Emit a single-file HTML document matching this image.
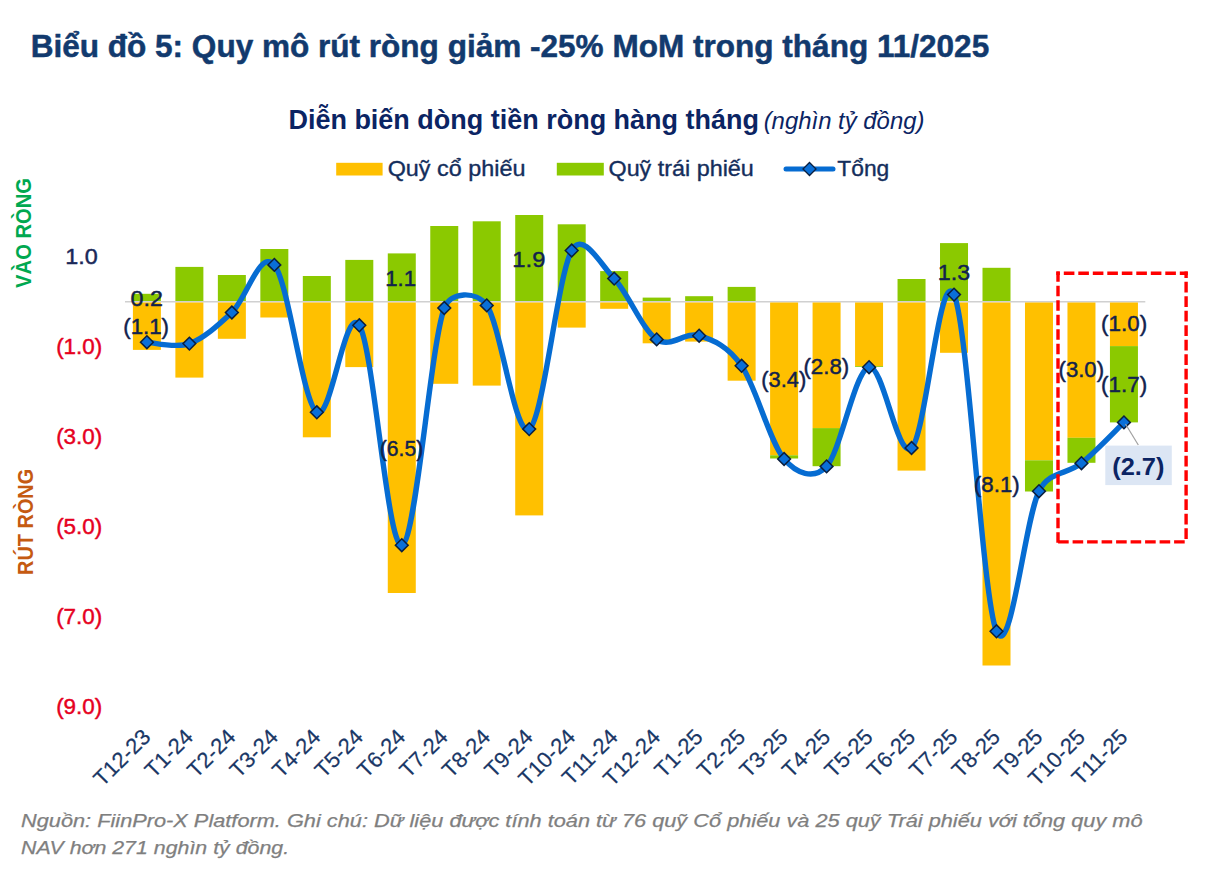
<!DOCTYPE html><html><head><meta charset="utf-8"><style>html,body{margin:0;padding:0;background:#fff;}svg{display:block;}</style></head><body>
<svg width="1214" height="882" viewBox="0 0 1214 882">
<rect width="1214" height="882" fill="#fff"/>
<text x="30.65" y="56.60" font-family='"Liberation Sans", sans-serif' font-size="31.5" font-weight="bold" font-style="normal" fill="#123A6E" textLength="958.55" lengthAdjust="spacingAndGlyphs" stroke="#123A6E" stroke-width="0.5" stroke-linejoin="round">Biểu đồ 5: Quy mô rút ròng giảm -25% MoM trong tháng 11/2025</text>
<text x="288.45" y="128.80" font-family='"Liberation Sans", sans-serif' font-size="27" font-weight="bold" font-style="normal" fill="#0B2463" textLength="470.53" lengthAdjust="spacingAndGlyphs">Diễn biến dòng tiền ròng hàng tháng</text>
<text x="763.66" y="128.80" font-family='"Liberation Sans", sans-serif' font-size="23" font-weight="normal" font-style="italic" fill="#0B2463" textLength="160.77" lengthAdjust="spacingAndGlyphs">(nghìn tỷ đồng)</text>
<rect x="336.2" y="162.8" width="46.4" height="12.7" fill="#FFC000"/>
<text x="387.69" y="176.00" font-family='"Liberation Sans", sans-serif' font-size="21.5" font-weight="normal" font-style="normal" fill="#142E5C" textLength="137.70" lengthAdjust="spacingAndGlyphs" stroke="#142E5C" stroke-width="0.35" stroke-linejoin="round">Quỹ cổ phiếu</text>
<rect x="556.8" y="162.8" width="47" height="12.7" fill="#8BC900"/>
<text x="608.49" y="176.00" font-family='"Liberation Sans", sans-serif' font-size="21.5" font-weight="normal" font-style="normal" fill="#142E5C" textLength="145.30" lengthAdjust="spacingAndGlyphs" stroke="#142E5C" stroke-width="0.35" stroke-linejoin="round">Quỹ trái phiếu</text>
<line x1="786" y1="169" x2="833" y2="169" stroke="#066CD2" stroke-width="5" stroke-linecap="round"/>
<path d="M809.5,162.5 L816,169 L809.5,175.5 L803,169 Z" fill="#0A6FD8" stroke="#0B1F3F" stroke-width="1.3"/>
<text x="837.34" y="176.00" font-family='"Liberation Sans", sans-serif' font-size="21.5" font-weight="normal" font-style="normal" fill="#142E5C" textLength="51.98" lengthAdjust="spacingAndGlyphs" stroke="#142E5C" stroke-width="0.35" stroke-linejoin="round">Tổng</text>
<g transform="translate(30.5,287.7) rotate(-90)"><text x="-0.23" y="0.00" font-family='"Liberation Sans", sans-serif' font-size="21.5" font-weight="bold" font-style="normal" fill="#00A850" textLength="109.97" lengthAdjust="spacingAndGlyphs">VÀO RÒNG</text></g>
<g transform="translate(32.7,573.5) rotate(-90)"><text x="-1.39" y="0.00" font-family='"Liberation Sans", sans-serif' font-size="21.5" font-weight="bold" font-style="normal" fill="#C55A11" textLength="106.06" lengthAdjust="spacingAndGlyphs">RÚT RÒNG</text></g>
<text x="65.17" y="263.75" font-family='"Liberation Sans", sans-serif' font-size="22" font-weight="normal" font-style="normal" fill="#1A2858" textLength="32.49" lengthAdjust="spacingAndGlyphs" stroke="#1A2858" stroke-width="0.45" stroke-linejoin="round">1.0</text>
<text x="56.15" y="353.75" font-family='"Liberation Sans", sans-serif' font-size="22" font-weight="normal" font-style="normal" fill="#E6001E" textLength="46.08" lengthAdjust="spacingAndGlyphs" stroke="#E6001E" stroke-width="0.45" stroke-linejoin="round">(1.0)</text>
<text x="56.15" y="443.75" font-family='"Liberation Sans", sans-serif' font-size="22" font-weight="normal" font-style="normal" fill="#E6001E" textLength="46.08" lengthAdjust="spacingAndGlyphs" stroke="#E6001E" stroke-width="0.45" stroke-linejoin="round">(3.0)</text>
<text x="56.15" y="533.75" font-family='"Liberation Sans", sans-serif' font-size="22" font-weight="normal" font-style="normal" fill="#E6001E" textLength="46.08" lengthAdjust="spacingAndGlyphs" stroke="#E6001E" stroke-width="0.45" stroke-linejoin="round">(5.0)</text>
<text x="56.15" y="623.75" font-family='"Liberation Sans", sans-serif' font-size="22" font-weight="normal" font-style="normal" fill="#E6001E" textLength="46.08" lengthAdjust="spacingAndGlyphs" stroke="#E6001E" stroke-width="0.45" stroke-linejoin="round">(7.0)</text>
<text x="56.15" y="713.75" font-family='"Liberation Sans", sans-serif' font-size="22" font-weight="normal" font-style="normal" fill="#E6001E" textLength="46.08" lengthAdjust="spacingAndGlyphs" stroke="#E6001E" stroke-width="0.45" stroke-linejoin="round">(9.0)</text>
<rect x="125" y="301" width="1020.3" height="1.5" fill="#D0D0D0"/>
<rect x="132.90" y="293.80" width="28.0" height="7.20" fill="#8BC900"/>
<rect x="132.90" y="302.50" width="28.0" height="47.40" fill="#FFC000"/>
<rect x="175.38" y="266.90" width="28.0" height="34.10" fill="#8BC900"/>
<rect x="175.38" y="302.50" width="28.0" height="75.10" fill="#FFC000"/>
<rect x="217.86" y="275.00" width="28.0" height="26.00" fill="#8BC900"/>
<rect x="217.86" y="302.50" width="28.0" height="36.30" fill="#FFC000"/>
<rect x="260.34" y="249.00" width="28.0" height="52.00" fill="#8BC900"/>
<rect x="260.34" y="302.50" width="28.0" height="15.00" fill="#FFC000"/>
<rect x="302.82" y="276.00" width="28.0" height="25.00" fill="#8BC900"/>
<rect x="302.82" y="302.50" width="28.0" height="134.80" fill="#FFC000"/>
<rect x="345.30" y="259.90" width="28.0" height="41.10" fill="#8BC900"/>
<rect x="345.30" y="302.50" width="28.0" height="64.60" fill="#FFC000"/>
<rect x="387.78" y="253.40" width="28.0" height="47.60" fill="#8BC900"/>
<rect x="387.78" y="302.50" width="28.0" height="290.50" fill="#FFC000"/>
<rect x="430.26" y="226.00" width="28.0" height="75.00" fill="#8BC900"/>
<rect x="430.26" y="302.50" width="28.0" height="81.30" fill="#FFC000"/>
<rect x="472.74" y="221.30" width="28.0" height="79.70" fill="#8BC900"/>
<rect x="472.74" y="302.50" width="28.0" height="83.10" fill="#FFC000"/>
<rect x="515.22" y="215.00" width="28.0" height="86.00" fill="#8BC900"/>
<rect x="515.22" y="302.50" width="28.0" height="212.90" fill="#FFC000"/>
<rect x="557.70" y="224.30" width="28.0" height="76.70" fill="#8BC900"/>
<rect x="557.70" y="302.50" width="28.0" height="25.10" fill="#FFC000"/>
<rect x="600.18" y="271.10" width="28.0" height="29.90" fill="#8BC900"/>
<rect x="600.18" y="302.50" width="28.0" height="6.30" fill="#FFC000"/>
<rect x="642.66" y="297.60" width="28.0" height="3.40" fill="#8BC900"/>
<rect x="642.66" y="302.50" width="28.0" height="40.80" fill="#FFC000"/>
<rect x="685.14" y="296.20" width="28.0" height="4.80" fill="#8BC900"/>
<rect x="685.14" y="302.50" width="28.0" height="39.10" fill="#FFC000"/>
<rect x="727.62" y="286.90" width="28.0" height="14.10" fill="#8BC900"/>
<rect x="727.62" y="302.50" width="28.0" height="78.20" fill="#FFC000"/>
<rect x="770.10" y="302.50" width="28.0" height="152.80" fill="#FFC000"/>
<rect x="770.10" y="455.30" width="28.0" height="3.20" fill="#8BC900"/>
<rect x="812.58" y="302.50" width="28.0" height="125.60" fill="#FFC000"/>
<rect x="812.58" y="428.10" width="28.0" height="38.10" fill="#8BC900"/>
<rect x="855.06" y="302.50" width="28.0" height="63.70" fill="#FFC000"/>
<rect x="855.06" y="366.20" width="28.0" height="0.80" fill="#8BC900"/>
<rect x="897.54" y="279.00" width="28.0" height="22.00" fill="#8BC900"/>
<rect x="897.54" y="302.50" width="28.0" height="168.10" fill="#FFC000"/>
<rect x="940.02" y="243.10" width="28.0" height="57.90" fill="#8BC900"/>
<rect x="940.02" y="302.50" width="28.0" height="50.30" fill="#FFC000"/>
<rect x="982.50" y="267.80" width="28.0" height="33.20" fill="#8BC900"/>
<rect x="982.50" y="302.50" width="28.0" height="363.00" fill="#FFC000"/>
<rect x="1024.98" y="302.50" width="28.0" height="157.80" fill="#FFC000"/>
<rect x="1024.98" y="460.30" width="28.0" height="31.20" fill="#8BC900"/>
<rect x="1067.46" y="302.50" width="28.0" height="135.30" fill="#FFC000"/>
<rect x="1067.46" y="437.80" width="28.0" height="25.00" fill="#8BC900"/>
<rect x="1109.94" y="302.50" width="28.0" height="43.60" fill="#FFC000"/>
<rect x="1109.94" y="346.10" width="28.0" height="76.30" fill="#8BC900"/>
<path d="M146.90,342.20 C153.98,342.43 175.22,348.55 189.38,343.60 C203.54,338.65 217.70,325.62 231.86,312.50 C246.02,299.38 260.18,248.27 274.34,264.90 C288.50,281.53 302.66,402.23 316.82,412.30 C330.98,422.37 345.14,303.15 359.30,325.30 C373.46,347.45 387.62,548.08 401.78,545.20 C415.94,542.32 430.10,347.97 444.26,308.00 C450.07,291.60 476.31,290.54 486.74,305.40 C500.90,325.58 515.06,438.25 529.22,429.10 C543.38,419.95 557.54,275.58 571.70,250.50 C583.04,230.41 600.02,263.78 614.18,278.60 C628.34,293.42 642.50,329.88 656.66,339.40 C670.82,348.92 684.98,331.30 699.14,335.70 C713.30,340.10 727.92,345.92 741.62,365.80 C755.78,386.35 769.94,442.23 784.10,459.00 C796.27,473.41 813.65,480.38 826.58,466.40 C840.74,451.10 854.90,370.27 869.06,367.20 C883.22,364.13 897.38,460.10 911.54,448.00 C925.70,435.90 939.86,264.05 954.02,294.60 C968.18,325.15 982.34,598.53 996.50,631.30 C1010.66,664.07 1024.82,519.22 1038.98,491.20 C1049.30,470.79 1067.30,474.67 1081.46,463.20 C1095.62,451.73 1116.86,429.20 1123.94,422.40" fill="none" stroke="#066CD2" stroke-width="5.4" stroke-linejoin="round" stroke-linecap="round"/>
<path d="M146.90,335.80 L153.30,342.20 L146.90,348.60 L140.50,342.20 Z" fill="#0A6FD8" stroke="#0B1F3F" stroke-width="1.5"/>
<path d="M189.38,337.20 L195.78,343.60 L189.38,350.00 L182.98,343.60 Z" fill="#0A6FD8" stroke="#0B1F3F" stroke-width="1.5"/>
<path d="M231.86,306.10 L238.26,312.50 L231.86,318.90 L225.46,312.50 Z" fill="#0A6FD8" stroke="#0B1F3F" stroke-width="1.5"/>
<path d="M274.34,258.50 L280.74,264.90 L274.34,271.30 L267.94,264.90 Z" fill="#0A6FD8" stroke="#0B1F3F" stroke-width="1.5"/>
<path d="M316.82,405.90 L323.22,412.30 L316.82,418.70 L310.42,412.30 Z" fill="#0A6FD8" stroke="#0B1F3F" stroke-width="1.5"/>
<path d="M359.30,318.90 L365.70,325.30 L359.30,331.70 L352.90,325.30 Z" fill="#0A6FD8" stroke="#0B1F3F" stroke-width="1.5"/>
<path d="M401.78,538.80 L408.18,545.20 L401.78,551.60 L395.38,545.20 Z" fill="#0A6FD8" stroke="#0B1F3F" stroke-width="1.5"/>
<path d="M444.26,301.60 L450.66,308.00 L444.26,314.40 L437.86,308.00 Z" fill="#0A6FD8" stroke="#0B1F3F" stroke-width="1.5"/>
<path d="M486.74,299.00 L493.14,305.40 L486.74,311.80 L480.34,305.40 Z" fill="#0A6FD8" stroke="#0B1F3F" stroke-width="1.5"/>
<path d="M529.22,422.70 L535.62,429.10 L529.22,435.50 L522.82,429.10 Z" fill="#0A6FD8" stroke="#0B1F3F" stroke-width="1.5"/>
<path d="M571.70,244.10 L578.10,250.50 L571.70,256.90 L565.30,250.50 Z" fill="#0A6FD8" stroke="#0B1F3F" stroke-width="1.5"/>
<path d="M614.18,272.20 L620.58,278.60 L614.18,285.00 L607.78,278.60 Z" fill="#0A6FD8" stroke="#0B1F3F" stroke-width="1.5"/>
<path d="M656.66,333.00 L663.06,339.40 L656.66,345.80 L650.26,339.40 Z" fill="#0A6FD8" stroke="#0B1F3F" stroke-width="1.5"/>
<path d="M699.14,329.30 L705.54,335.70 L699.14,342.10 L692.74,335.70 Z" fill="#0A6FD8" stroke="#0B1F3F" stroke-width="1.5"/>
<path d="M741.62,359.40 L748.02,365.80 L741.62,372.20 L735.22,365.80 Z" fill="#0A6FD8" stroke="#0B1F3F" stroke-width="1.5"/>
<path d="M784.10,452.60 L790.50,459.00 L784.10,465.40 L777.70,459.00 Z" fill="#0A6FD8" stroke="#0B1F3F" stroke-width="1.5"/>
<path d="M826.58,460.00 L832.98,466.40 L826.58,472.80 L820.18,466.40 Z" fill="#0A6FD8" stroke="#0B1F3F" stroke-width="1.5"/>
<path d="M869.06,360.80 L875.46,367.20 L869.06,373.60 L862.66,367.20 Z" fill="#0A6FD8" stroke="#0B1F3F" stroke-width="1.5"/>
<path d="M911.54,441.60 L917.94,448.00 L911.54,454.40 L905.14,448.00 Z" fill="#0A6FD8" stroke="#0B1F3F" stroke-width="1.5"/>
<path d="M954.02,288.20 L960.42,294.60 L954.02,301.00 L947.62,294.60 Z" fill="#0A6FD8" stroke="#0B1F3F" stroke-width="1.5"/>
<path d="M996.50,624.90 L1002.90,631.30 L996.50,637.70 L990.10,631.30 Z" fill="#0A6FD8" stroke="#0B1F3F" stroke-width="1.5"/>
<path d="M1038.98,484.80 L1045.38,491.20 L1038.98,497.60 L1032.58,491.20 Z" fill="#0A6FD8" stroke="#0B1F3F" stroke-width="1.5"/>
<path d="M1081.46,456.80 L1087.86,463.20 L1081.46,469.60 L1075.06,463.20 Z" fill="#0A6FD8" stroke="#0B1F3F" stroke-width="1.5"/>
<path d="M1123.94,416.00 L1130.34,422.40 L1123.94,428.80 L1117.54,422.40 Z" fill="#0A6FD8" stroke="#0B1F3F" stroke-width="1.5"/>
<text x="130.53" y="305.60" font-family='"Liberation Sans", sans-serif' font-size="22" font-weight="normal" font-style="normal" fill="#12224D" textLength="32.39" lengthAdjust="spacingAndGlyphs" stroke="#12224D" stroke-width="0.45" stroke-linejoin="round">0.2</text>
<text x="123.26" y="333.60" font-family='"Liberation Sans", sans-serif' font-size="22" font-weight="normal" font-style="normal" fill="#12224D" textLength="45.77" lengthAdjust="spacingAndGlyphs" stroke="#12224D" stroke-width="0.45" stroke-linejoin="round">(1.1)</text>
<text x="385.26" y="285.80" font-family='"Liberation Sans", sans-serif' font-size="22" font-weight="normal" font-style="normal" fill="#12224D" textLength="30.80" lengthAdjust="spacingAndGlyphs" stroke="#12224D" stroke-width="0.45" stroke-linejoin="round">1.1</text>
<text x="379.83" y="455.80" font-family='"Liberation Sans", sans-serif' font-size="22" font-weight="normal" font-style="normal" fill="#12224D" textLength="43.33" lengthAdjust="spacingAndGlyphs" stroke="#12224D" stroke-width="0.45" stroke-linejoin="round">(6.5)</text>
<text x="512.33" y="266.70" font-family='"Liberation Sans", sans-serif' font-size="22" font-weight="normal" font-style="normal" fill="#12224D" textLength="33.12" lengthAdjust="spacingAndGlyphs" stroke="#12224D" stroke-width="0.45" stroke-linejoin="round">1.9</text>
<text x="761.28" y="386.50" font-family='"Liberation Sans", sans-serif' font-size="22" font-weight="normal" font-style="normal" fill="#12224D" textLength="44.92" lengthAdjust="spacingAndGlyphs" stroke="#12224D" stroke-width="0.45" stroke-linejoin="round">(3.4)</text>
<text x="803.46" y="373.70" font-family='"Liberation Sans", sans-serif' font-size="22" font-weight="normal" font-style="normal" fill="#12224D" textLength="45.77" lengthAdjust="spacingAndGlyphs" stroke="#12224D" stroke-width="0.45" stroke-linejoin="round">(2.8)</text>
<text x="937.87" y="280.20" font-family='"Liberation Sans", sans-serif' font-size="22" font-weight="normal" font-style="normal" fill="#12224D" textLength="32.35" lengthAdjust="spacingAndGlyphs" stroke="#12224D" stroke-width="0.45" stroke-linejoin="round">1.3</text>
<text x="973.86" y="491.70" font-family='"Liberation Sans", sans-serif' font-size="22" font-weight="normal" font-style="normal" fill="#12224D" textLength="45.87" lengthAdjust="spacingAndGlyphs" stroke="#12224D" stroke-width="0.45" stroke-linejoin="round">(8.1)</text>
<text x="1058.57" y="377.30" font-family='"Liberation Sans", sans-serif' font-size="22" font-weight="normal" font-style="normal" fill="#12224D" textLength="45.45" lengthAdjust="spacingAndGlyphs" stroke="#12224D" stroke-width="0.45" stroke-linejoin="round">(3.0)</text>
<text x="1101.05" y="331.40" font-family='"Liberation Sans", sans-serif' font-size="22" font-weight="normal" font-style="normal" fill="#12224D" textLength="46.08" lengthAdjust="spacingAndGlyphs" stroke="#12224D" stroke-width="0.45" stroke-linejoin="round">(1.0)</text>
<text x="1101.05" y="392.10" font-family='"Liberation Sans", sans-serif' font-size="22" font-weight="normal" font-style="normal" fill="#12224D" textLength="46.08" lengthAdjust="spacingAndGlyphs" stroke="#12224D" stroke-width="0.45" stroke-linejoin="round">(1.7)</text>
<line x1="1125.5" y1="424" x2="1138.3" y2="445" stroke="#A0A0A0" stroke-width="1.2"/>
<rect x="1105.3" y="445.6" width="66.5" height="39.5" fill="#DCE6F4"/>
<text x="1112.20" y="474.80" font-family='"Liberation Sans", sans-serif' font-size="24.5" font-weight="bold" font-style="normal" fill="#0B2463" textLength="52.27" lengthAdjust="spacingAndGlyphs">(2.7)</text>
<path d="M1058,273.2 H1186.1" stroke="#FF0000" stroke-width="3.4" stroke-linecap="square" stroke-dasharray="7.2 7.3" stroke-dashoffset="7.0" fill="none"/>
<path d="M1186.1,273.2 V541.9" stroke="#FF0000" stroke-width="3.4" stroke-linecap="square" stroke-dasharray="7.2 7.3" stroke-dashoffset="4.2" fill="none"/>
<path d="M1186.1,541.9 H1058" stroke="#FF0000" stroke-width="3.4" stroke-linecap="square" stroke-dasharray="7.2 7.3" stroke-dashoffset="11.4" fill="none"/>
<path d="M1058,541.9 V273.2" stroke="#FF0000" stroke-width="3.4" stroke-linecap="square" stroke-dasharray="7.2 7.3" stroke-dashoffset="13.7" fill="none"/>
<text transform="translate(151.90,738.30) rotate(-45)" text-anchor="end" font-family='"Liberation Sans", sans-serif' font-size="22" fill="#1A3766" stroke="#1A3766" stroke-width="0.2">T12-23</text>
<text transform="translate(194.38,738.30) rotate(-45)" text-anchor="end" font-family='"Liberation Sans", sans-serif' font-size="22" fill="#1A3766" stroke="#1A3766" stroke-width="0.2">T1-24</text>
<text transform="translate(236.86,738.30) rotate(-45)" text-anchor="end" font-family='"Liberation Sans", sans-serif' font-size="22" fill="#1A3766" stroke="#1A3766" stroke-width="0.2">T2-24</text>
<text transform="translate(279.34,738.30) rotate(-45)" text-anchor="end" font-family='"Liberation Sans", sans-serif' font-size="22" fill="#1A3766" stroke="#1A3766" stroke-width="0.2">T3-24</text>
<text transform="translate(321.82,738.30) rotate(-45)" text-anchor="end" font-family='"Liberation Sans", sans-serif' font-size="22" fill="#1A3766" stroke="#1A3766" stroke-width="0.2">T4-24</text>
<text transform="translate(364.30,738.30) rotate(-45)" text-anchor="end" font-family='"Liberation Sans", sans-serif' font-size="22" fill="#1A3766" stroke="#1A3766" stroke-width="0.2">T5-24</text>
<text transform="translate(406.78,738.30) rotate(-45)" text-anchor="end" font-family='"Liberation Sans", sans-serif' font-size="22" fill="#1A3766" stroke="#1A3766" stroke-width="0.2">T6-24</text>
<text transform="translate(449.26,738.30) rotate(-45)" text-anchor="end" font-family='"Liberation Sans", sans-serif' font-size="22" fill="#1A3766" stroke="#1A3766" stroke-width="0.2">T7-24</text>
<text transform="translate(491.74,738.30) rotate(-45)" text-anchor="end" font-family='"Liberation Sans", sans-serif' font-size="22" fill="#1A3766" stroke="#1A3766" stroke-width="0.2">T8-24</text>
<text transform="translate(534.22,738.30) rotate(-45)" text-anchor="end" font-family='"Liberation Sans", sans-serif' font-size="22" fill="#1A3766" stroke="#1A3766" stroke-width="0.2">T9-24</text>
<text transform="translate(576.70,738.30) rotate(-45)" text-anchor="end" font-family='"Liberation Sans", sans-serif' font-size="22" fill="#1A3766" stroke="#1A3766" stroke-width="0.2">T10-24</text>
<text transform="translate(619.18,738.30) rotate(-45)" text-anchor="end" font-family='"Liberation Sans", sans-serif' font-size="22" fill="#1A3766" stroke="#1A3766" stroke-width="0.2">T11-24</text>
<text transform="translate(661.66,738.30) rotate(-45)" text-anchor="end" font-family='"Liberation Sans", sans-serif' font-size="22" fill="#1A3766" stroke="#1A3766" stroke-width="0.2">T12-24</text>
<text transform="translate(704.14,738.30) rotate(-45)" text-anchor="end" font-family='"Liberation Sans", sans-serif' font-size="22" fill="#1A3766" stroke="#1A3766" stroke-width="0.2">T1-25</text>
<text transform="translate(746.62,738.30) rotate(-45)" text-anchor="end" font-family='"Liberation Sans", sans-serif' font-size="22" fill="#1A3766" stroke="#1A3766" stroke-width="0.2">T2-25</text>
<text transform="translate(789.10,738.30) rotate(-45)" text-anchor="end" font-family='"Liberation Sans", sans-serif' font-size="22" fill="#1A3766" stroke="#1A3766" stroke-width="0.2">T3-25</text>
<text transform="translate(831.58,738.30) rotate(-45)" text-anchor="end" font-family='"Liberation Sans", sans-serif' font-size="22" fill="#1A3766" stroke="#1A3766" stroke-width="0.2">T4-25</text>
<text transform="translate(874.06,738.30) rotate(-45)" text-anchor="end" font-family='"Liberation Sans", sans-serif' font-size="22" fill="#1A3766" stroke="#1A3766" stroke-width="0.2">T5-25</text>
<text transform="translate(916.54,738.30) rotate(-45)" text-anchor="end" font-family='"Liberation Sans", sans-serif' font-size="22" fill="#1A3766" stroke="#1A3766" stroke-width="0.2">T6-25</text>
<text transform="translate(959.02,738.30) rotate(-45)" text-anchor="end" font-family='"Liberation Sans", sans-serif' font-size="22" fill="#1A3766" stroke="#1A3766" stroke-width="0.2">T7-25</text>
<text transform="translate(1001.50,738.30) rotate(-45)" text-anchor="end" font-family='"Liberation Sans", sans-serif' font-size="22" fill="#1A3766" stroke="#1A3766" stroke-width="0.2">T8-25</text>
<text transform="translate(1043.98,738.30) rotate(-45)" text-anchor="end" font-family='"Liberation Sans", sans-serif' font-size="22" fill="#1A3766" stroke="#1A3766" stroke-width="0.2">T9-25</text>
<text transform="translate(1086.46,738.30) rotate(-45)" text-anchor="end" font-family='"Liberation Sans", sans-serif' font-size="22" fill="#1A3766" stroke="#1A3766" stroke-width="0.2">T10-25</text>
<text transform="translate(1128.94,738.30) rotate(-45)" text-anchor="end" font-family='"Liberation Sans", sans-serif' font-size="22" fill="#1A3766" stroke="#1A3766" stroke-width="0.2">T11-25</text>
<text x="21.00" y="827.00" font-family='"Liberation Sans", sans-serif' font-size="17.5" font-weight="normal" font-style="italic" fill="#7F7F7F" textLength="1121.52" lengthAdjust="spacingAndGlyphs" stroke="#7F7F7F" stroke-width="0.25" stroke-linejoin="round">Nguồn: FiinPro-X Platform. Ghi chú: Dữ liệu được tính toán từ 76 quỹ Cổ phiếu và 25 quỹ Trái phiếu với tổng quy mô</text>
<text x="21.01" y="854.40" font-family='"Liberation Sans", sans-serif' font-size="17.5" font-weight="normal" font-style="italic" fill="#7F7F7F" textLength="268.16" lengthAdjust="spacingAndGlyphs" stroke="#7F7F7F" stroke-width="0.25" stroke-linejoin="round">NAV hơn 271 nghìn tỷ đồng.</text>
</svg></body></html>
